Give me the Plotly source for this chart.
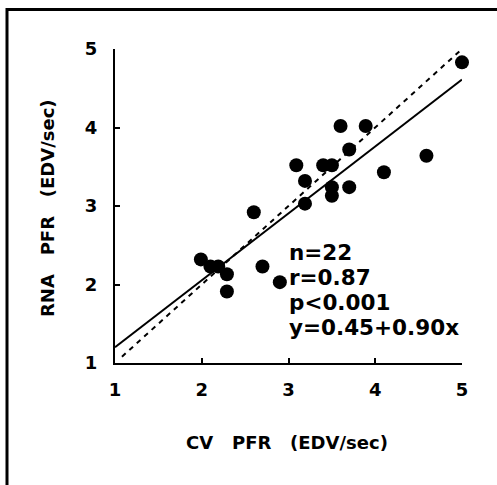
import plotly.graph_objects as go

# Data
cv_pfr = [5.00, 3.60, 3.89, 3.70, 4.59, 3.09, 3.40, 3.50, 4.10, 3.19, 3.50,
          3.70, 3.50, 3.19, 2.60, 1.99, 2.10, 2.19, 2.29, 2.70, 2.90, 2.29]
rna_pfr = [4.83, 4.02, 4.02, 3.72, 3.64, 3.52, 3.52, 3.52, 3.43, 3.32, 3.24,
           3.24, 3.13, 3.03, 2.92, 2.32, 2.23, 2.23, 2.13, 2.23, 2.03, 1.91]
fit_x = [1.0, 5.0]
fit_y = [1.20, 4.61]
identity_x = [1.08, 5.03]
identity_y = [1.08, 5.03]
tick_vals = [1, 2, 3, 4, 5]
tick_text = ["1", "2", "3", "4", "5"]
stats_lines = ["n=22", "r=0.87", "p<0.001", "y=0.45+0.90x"]
x_title = "CV   PFR   (EDV/sec)"
y_title = "RNA   PFR   (EDV/sec)"

W, H = 497, 485
L, R, T, B = 115, 35, 49, 122
pw, ph = W - L - R, H - T - B

FONT = "DejaVu Sans"

fig = go.Figure()
fig.add_trace(go.Scatter(x=identity_x, y=identity_y, mode="lines",
                         line=dict(color="black", width=2, dash="5px,5px"),
                         cliponaxis=False, showlegend=False, hoverinfo="skip"))
fig.add_trace(go.Scatter(x=fit_x, y=fit_y, mode="lines",
                         line=dict(color="black", width=2),
                         cliponaxis=False, showlegend=False, hoverinfo="skip"))
fig.add_trace(go.Scatter(x=cv_pfr, y=rna_pfr, mode="markers",
                         marker=dict(color="black", size=14, line=dict(width=0)),
                         cliponaxis=False, showlegend=False))

axis_common = dict(
    range=[1, 5], tickvals=tick_vals, ticktext=tick_text,
    showgrid=False, zeroline=False, showline=True, linecolor="black", linewidth=2,
    ticks="inside", ticklen=5, tickwidth=2, tickcolor="black",
    tickfont=dict(family=FONT, size=18, color="black", weight="bold"),
)
fig.update_xaxes(**axis_common, ticklabelstandoff=9)
fig.update_yaxes(**axis_common, ticklabelstandoff=12)

def px_x(p):
    return (p - L) / pw

def px_y(p):
    return (H - B - p) / ph

annotations = []
for i, line in enumerate(stats_lines):
    annotations.append(dict(
        x=px_x(287), y=px_y(252 + i * 25.3), xref="paper", yref="paper",
        text=line, showarrow=False, xanchor="left", yanchor="middle",
        font=dict(family=FONT, size=21.5, color="black", weight="bold")))
annotations.append(dict(
    x=px_x(287), y=px_y(442), xref="paper", yref="paper", text=x_title,
    showarrow=False, xanchor="center", yanchor="middle",
    font=dict(family=FONT, size=18, color="black", weight="bold")))
annotations.append(dict(
    x=px_x(47), y=px_y(208), xref="paper", yref="paper", text=y_title,
    showarrow=False, xanchor="center", yanchor="middle", textangle=-90,
    font=dict(family=FONT, size=18, color="black", weight="bold")))

frame = dict(color="black", width=3)
fig.update_layout(
    width=W, height=H,
    margin=dict(l=L, r=R, t=T, b=B, pad=0),
    paper_bgcolor="white", plot_bgcolor="white",
    annotations=annotations,
    shapes=[
        dict(type="line", xref="paper", yref="paper",
             x0=px_x(7), x1=px_x(497), y0=px_y(9.5), y1=px_y(9.5), line=frame),
        dict(type="line", xref="paper", yref="paper",
             x0=px_x(7), x1=px_x(7), y0=px_y(8), y1=px_y(485), line=frame),
    ],
)

fig.write_html("out.html", config={"displayModeBar": False},
               post_script="document.body.style.margin='0';document.body.style.overflow='hidden';")
